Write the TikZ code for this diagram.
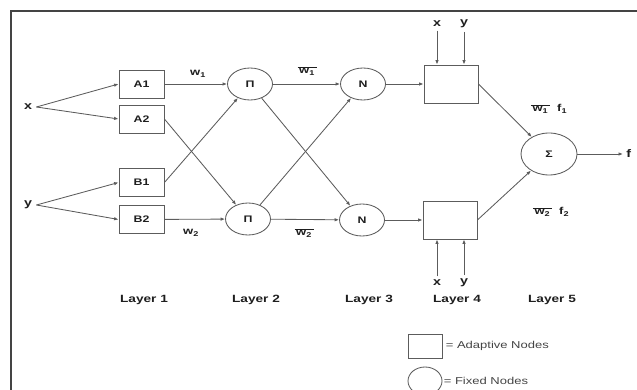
\documentclass[tikz,border=0pt]{standalone}
\usepackage{fontspec}
\setmainfont{Liberation Sans}[FakeStretch=1.3]
\usetikzlibrary{arrows.meta, positioning, shapes.geometric}
\definecolor{mLine}{HTML}{5C5C5C}
\definecolor{mFrame}{HTML}{444444}
\definecolor{mText}{HTML}{1E1E1E}
\newcommand{\wb}[1]{$\overline{\hbox{\,w\textsubscript{#1}\,}}$}

\begin{document}
\begin{tikzpicture}[x=1pt, y=-1pt, line width=0.85pt,
    every node/.style={text=mText, font=\bfseries\fontsize{9.5}{11}\selectfont},
    big/.style={font=\bfseries\fontsize{11}{13}\selectfont},
    sml/.style={font=\bfseries\fontsize{10}{12}\selectfont},
    adapt/.style={draw=mLine, rectangle, minimum width=45pt, minimum height=28pt, inner sep=0pt},
    fixed/.style={draw=mLine, ellipse, minimum width=45pt, minimum height=32pt, inner sep=0pt},
    arr/.style={draw=mLine, -{Latex[length=4.5pt, width=3.5pt]}}]
    \useasboundingbox (0,0) rectangle (637,390);
    \draw[mFrame, line width=1.2pt] (11,390) -- (11,11) -- (637,11);

    % layer 1
    \node[adapt] (a1) at (141.5,84) {A1};
    \node[adapt] (a2) at (141.5,119) {A2};
    \node[adapt] (b1) at (141.5,182.5) {B1};
    \node[adapt] (b2) at (141.5,219.5) {B2};
    \node[big, inner sep=4pt] (xin) at (28,107) {x};
    \node[big, inner sep=4pt] (yin) at (28,205) {y};
    \draw[arr] (xin.east) -- (a1.west);
    \draw[arr] (xin.east) -- (a2.west);
    \draw[arr] (yin.east) -- (b1.west);
    \draw[arr] (yin.east) -- (b2.west);

    % layer 2 and 3
    \node[fixed] (p1) at (250,84) {Π};
    \node[fixed] (p2) at (248,219) {Π};
    \node[fixed] (n1) at (363,84) {N};
    \node[fixed] (n2) at (362,220) {N};
    \draw[arr] (a1) -- (p1);
    \draw[arr] (b2) -- (p2);
    \draw[arr] (a2.east) -- (p2);
    \draw[arr] (b1.east) -- (p1);
    \draw[arr] (p1) -- (n1);
    \draw[arr] (p2) -- (n2);
    \draw[arr] (p1) -- (n2);
    \draw[arr] (p2) -- (n1);
    \node[sml] (w1) at (198,74) {w\textsubscript{1}};
    \node[sml] (w2) at (191,233) {w\textsubscript{2}};
    \node[sml] (w1b) at (307,71) {\wb{1}};
    \node[sml] (w2b) at (304,233) {\wb{2}};

    % layer 4 and 5
    \node[adapt, minimum width=54pt, minimum height=38pt] (q1) at (451,84) {};
    \node[adapt, minimum width=54pt, minimum height=38pt] (q2) at (450,220) {};
    \draw[arr] (n1) -- (q1);
    \draw[arr] (n2) -- (q2);
    \foreach \v/\px in {x/437, y/464} {
      \node[big] (t\v) at (\px,24) {\v};
      \draw[arr] (t\v.south) -- (t\v |- q1.north);
      \node[big] (u\v) at (\px,283) {\v};
      \draw[arr] (u\v.north) -- (u\v |- q2.south);
    }
    \node[fixed, minimum width=56pt, minimum height=42pt] (s) at (549,154) {Σ};
    \draw[arr] (q1.east) -- (s);
    \draw[arr] (q2.east) -- (s);
    \node[big, anchor=west, inner sep=3pt] (fout) at (623,154) {f};
    \draw[arr] (s) -- (fout);
    \node[sml] (f1) at (549,109) {\wb{1}\ \ f\textsubscript{1}};
    \node[sml] (f2) at (551,212) {\wb{2}\ \ f\textsubscript{2}};

    % layer names
    \foreach \i/\px in {1/144, 2/256, 3/369, 4/457, 5/552}
      \node[font=\bfseries\fontsize{10.5}{12}\selectfont] (lay\i) at (\px,300) {Layer \i};

    % legend
    \node[adapt, minimum width=34pt, minimum height=24pt] (key1) at (425,346) {};
    \node[right=2pt of key1, inner sep=1pt, font=\fontsize{10}{12}\selectfont, text=mFrame] (key1t) {= Adaptive Nodes};
    \node[fixed, minimum width=34pt, minimum height=28pt] (key2) at (425,381) {};
    \node[right=0pt of key2, inner sep=1pt, font=\fontsize{10}{12}\selectfont, text=mFrame] (key2t) {= Fixed Nodes};
\end{tikzpicture}
\end{document}
